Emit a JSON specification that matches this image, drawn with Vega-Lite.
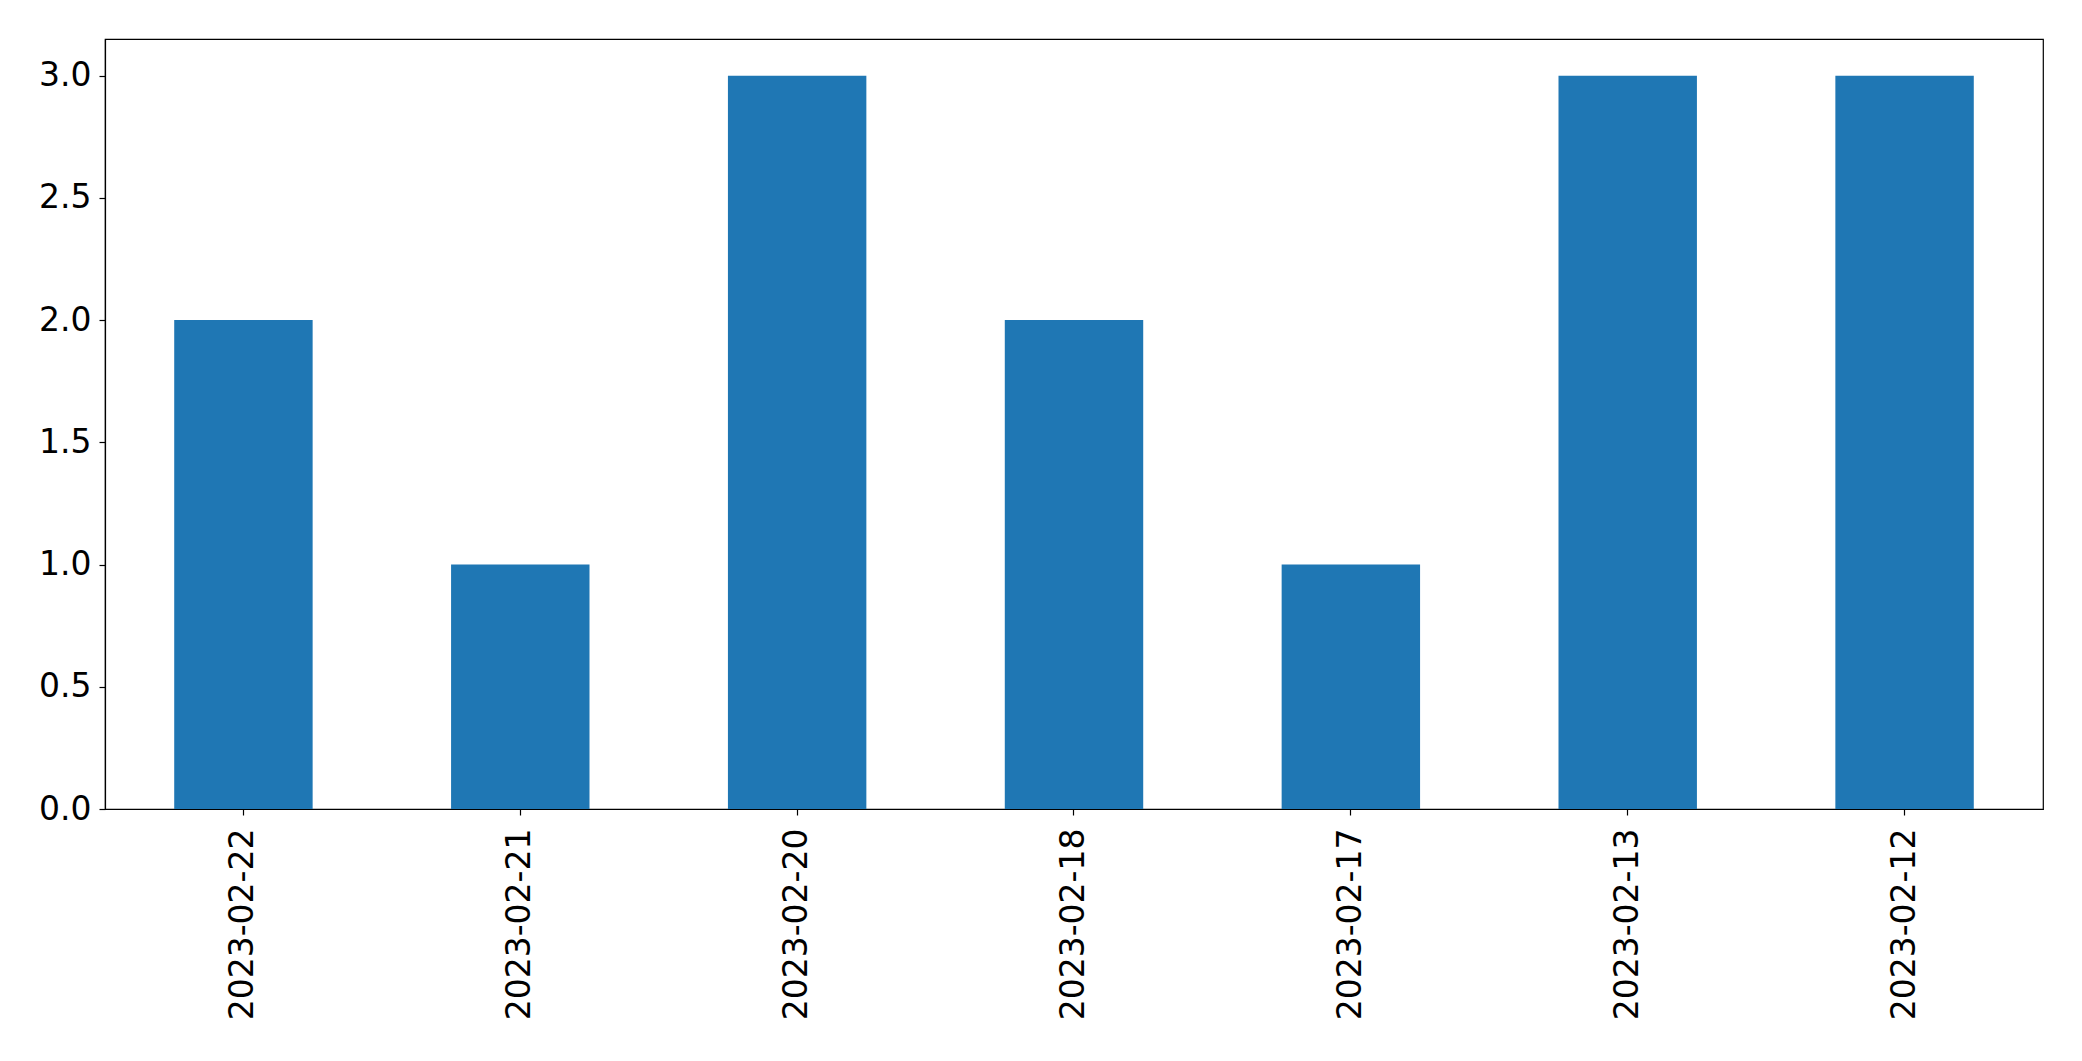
{
  "$schema": "https://vega.github.io/schema/vega-lite/v6.json",
  "autosize": "none",
  "padding": {"left": 105, "top": 39, "right": 39, "bottom": 252},
  "width": 1938,
  "height": 770,
  "background": "white",
  "config": {
    "view": {"stroke": "black", "strokeWidth": 1.2},
    "axis": {
      "domainColor": "black",
      "tickColor": "black",
      "labelColor": "black",
      "labelFont": "DejaVu Sans",
      "labelFontSize": 33,
      "labelLimit": 0,
      "grid": false,
      "tickSize": 6,
      "domainWidth": 1.2,
      "tickWidth": 1.2
    }
  },
  "data": {
    "values": [
      {"date": "2023-02-22", "count": 2},
      {"date": "2023-02-21", "count": 1},
      {"date": "2023-02-20", "count": 3},
      {"date": "2023-02-18", "count": 2},
      {"date": "2023-02-17", "count": 1},
      {"date": "2023-02-13", "count": 3},
      {"date": "2023-02-12", "count": 3}
    ]
  },
  "mark": {"type": "bar", "color": "#1f77b4"},
  "encoding": {
    "x": {
      "field": "date",
      "type": "nominal",
      "sort": null,
      "scale": {"paddingInner": 0.5, "paddingOuter": 0.25},
      "axis": {"title": null, "labelAngle": -90, "labelPadding": 13}
    },
    "y": {
      "field": "count",
      "type": "quantitative",
      "scale": {"domain": [0, 3.15], "nice": false},
      "axis": {"title": null, "values": [0, 0.5, 1, 1.5, 2, 2.5, 3], "format": ".1f", "labelPadding": 8}
    }
  }
}
